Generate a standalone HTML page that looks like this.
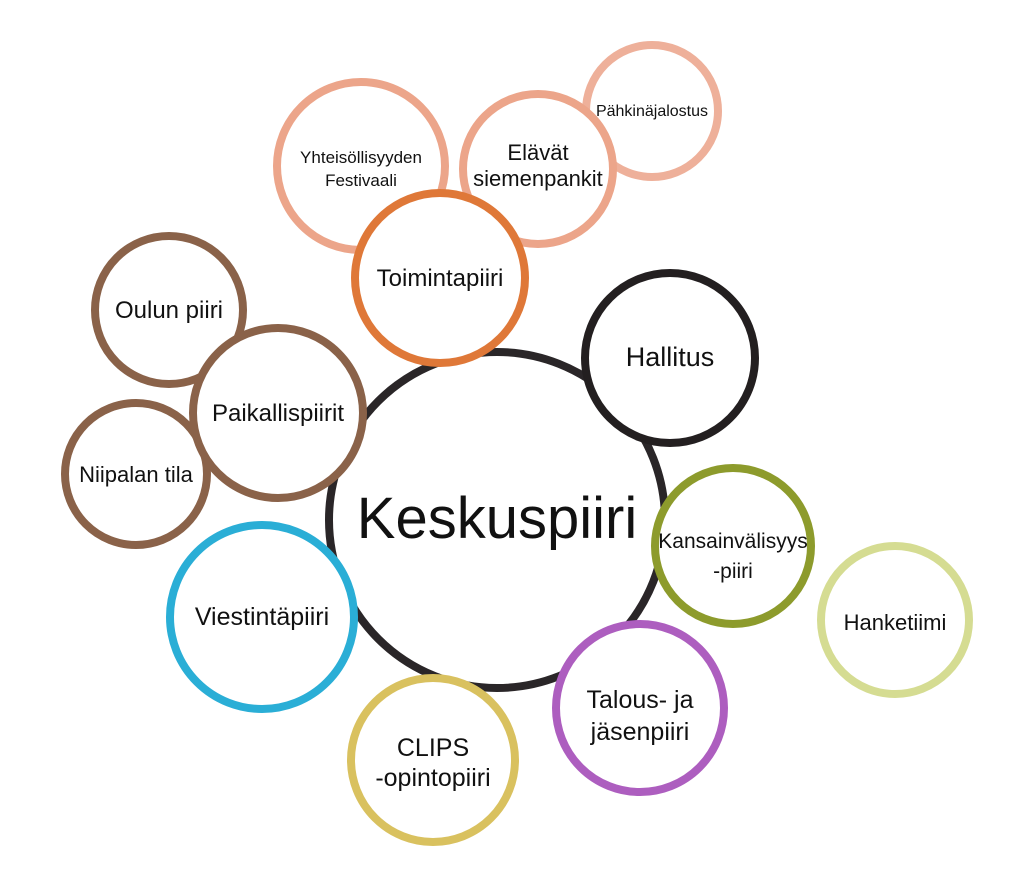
<!DOCTYPE html>
<html><head><meta charset="utf-8"><style>
html,body{margin:0;padding:0;background:#fff;}
svg{display:block;}
text{font-family:"Liberation Sans","DejaVu Sans",sans-serif;fill:#111;text-anchor:middle;}
</style></head><body>
<svg width="1024" height="894" viewBox="0 0 1024 894" xmlns="http://www.w3.org/2000/svg">
<g fill="#fff" stroke-width="8">
<circle cx="497" cy="520" r="168" stroke="#2a2628"/>
<circle cx="652" cy="111" r="66" stroke="#eeb09a"/>
<circle cx="361" cy="166" r="84" stroke="#eca58a"/>
<circle cx="538" cy="169" r="75" stroke="#eca58a"/>
<circle cx="440" cy="278" r="85" stroke="#df7838"/>
<circle cx="670" cy="358" r="85" stroke="#231f20"/>
<circle cx="169" cy="310" r="74" stroke="#8a6249"/>
<circle cx="136" cy="474" r="71" stroke="#8a6249"/>
<circle cx="278" cy="413" r="85" stroke="#8a6249"/>
<circle cx="895" cy="620" r="74" stroke="#d5dc92"/>
<circle cx="733" cy="546" r="78" stroke="#8d9b2c"/>
<circle cx="262" cy="617" r="92" stroke="#2aaed6"/>
<circle cx="640" cy="708" r="84" stroke="#ad5ebf"/>
<circle cx="433" cy="760" r="82" stroke="#d9c15f"/>
</g>
<text x="497" y="538" font-size="58">Keskuspiiri</text>
<text x="652" y="116" font-size="16">Pähkinäjalostus</text>
<text x="361" y="163" font-size="17">Yhteisöllisyyden</text>
<text x="361" y="186" font-size="17">Festivaali</text>
<text x="538" y="160" font-size="22">Elävät</text>
<text x="538" y="186" font-size="22">siemenpankit</text>
<text x="440" y="286" font-size="24">Toimintapiiri</text>
<text x="670" y="366" font-size="27">Hallitus</text>
<text x="169" y="318" font-size="24">Oulun piiri</text>
<text x="136" y="482" font-size="22">Niipalan tila</text>
<text x="278" y="421" font-size="24">Paikallispiirit</text>
<text x="895" y="630" font-size="22">Hanketiimi</text>
<text x="733" y="548" font-size="21">Kansainvälisyys</text>
<text x="733" y="578" font-size="21">-piiri</text>
<text x="262" y="625" font-size="25">Viestintäpiiri</text>
<text x="640" y="708" font-size="25">Talous- ja</text>
<text x="640" y="740" font-size="25">jäsenpiiri</text>
<text x="433" y="756" font-size="25">CLIPS</text>
<text x="433" y="786" font-size="25">-opintopiiri</text>
</svg>
</body></html>
